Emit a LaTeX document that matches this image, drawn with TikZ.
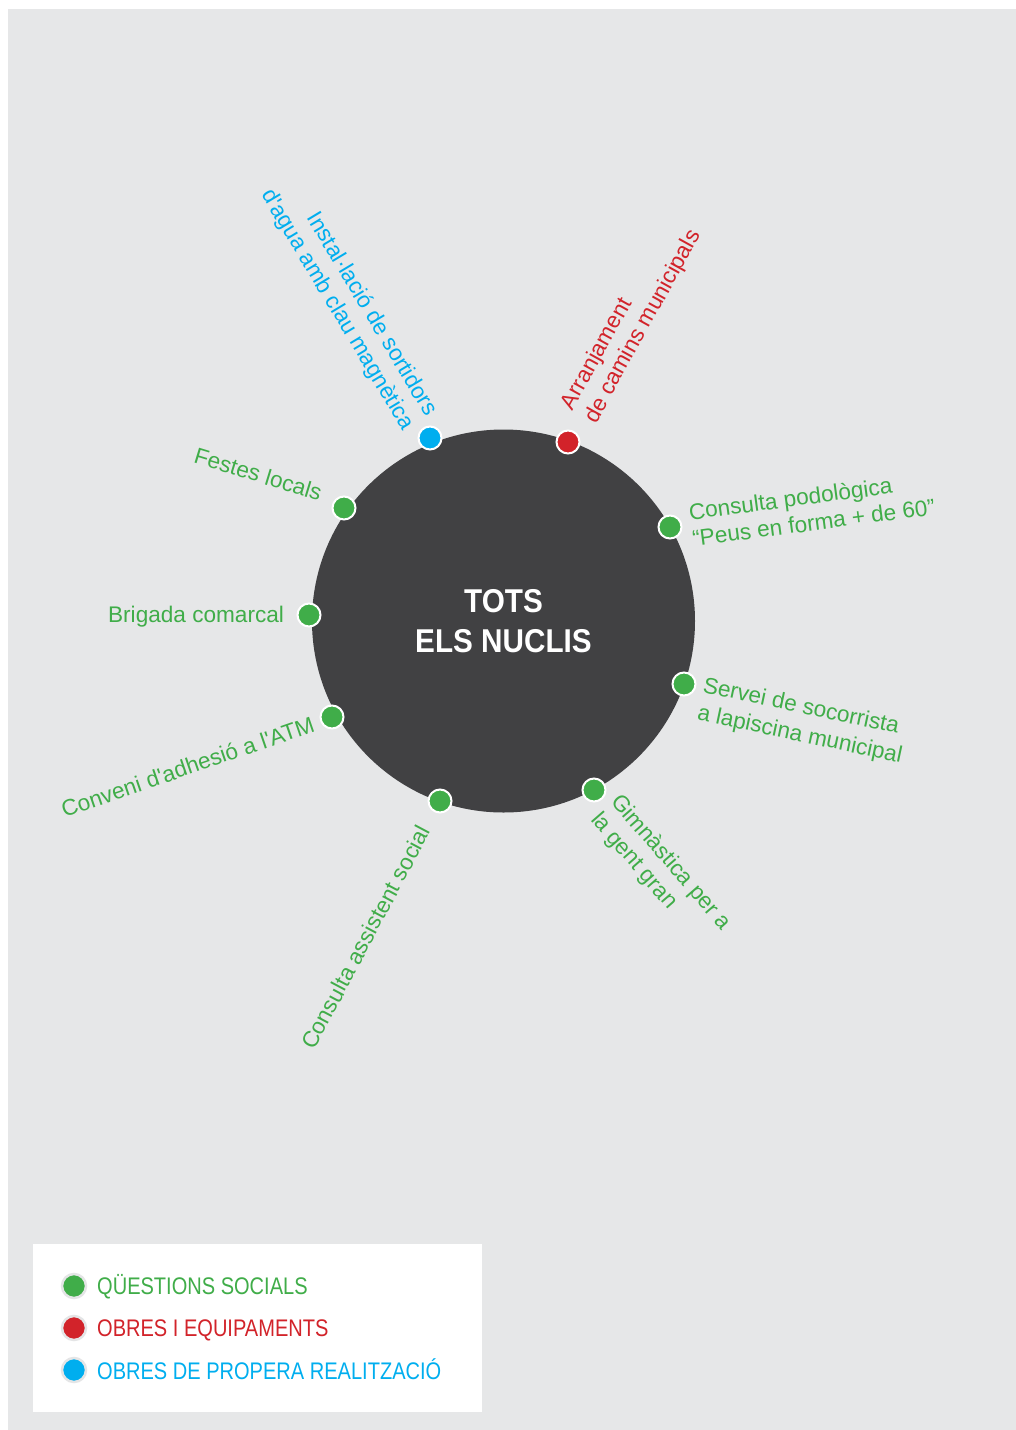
\documentclass[tikz,border=0pt]{standalone}
\usepackage{fontspec}
\setmainfont{Liberation Sans}
\newfontfamily\lblfont{Liberation Sans}[Ligatures=ResetAll]
\newfontfamily\condfont[FakeStretch=0.835]{Liberation Sans}
\newfontfamily\titlefont[FakeStretch=0.9]{Liberation Sans}
\definecolor{qgreen}{RGB}{64,173,73}
\definecolor{ored}{RGB}{210,35,42}
\definecolor{pblue}{RGB}{0,174,239}
\definecolor{hubgray}{RGB}{65,65,67}
\definecolor{bggray}{RGB}{230,231,232}
\definecolor{ringgray}{RGB}{228,229,230}
\begin{document}
\begin{tikzpicture}[x=1pt,y=-1pt,
  dot/.style={circle, minimum size=23pt, inner sep=0pt, draw=white, line width=2pt},
  gdot/.style={dot, fill=qgreen},
  rdot/.style={dot, fill=ored},
  bdot/.style={dot, fill=pblue},
  lbl/.style={inner sep=0pt, outer sep=0pt, font=\lblfont\fontsize{22.6}{27}\selectfont},
  glbl/.style={lbl, text=qgreen},
  rlbl/.style={lbl, text=ored},
  blbl/.style={lbl, text=pblue},
  legdot/.style={circle, minimum size=24pt, inner sep=0pt, draw=ringgray, line width=2.5pt},
  legtxt/.style={inner sep=0pt, anchor=base west, font=\condfont\fontsize{24}{28}\selectfont}
]
\useasboundingbox (0,0) rectangle (1016,1430);
\fill[white] (0,0) rectangle (1016,1430);
\fill[bggray] (8,9) rectangle (1016,1430);

% hub
\node[circle, fill=hubgray, minimum size=383pt, inner sep=0pt, text=white, align=center,
      font=\titlefont\bfseries\fontsize{33}{40}\selectfont] (hub) at (503.5,621) {TOTS\\ELS NUCLIS};

% dots
\node[bdot] (inst) at (430,438) {};
\node[rdot] (arr) at (568,442) {};
\node[gdot] (pod) at (670,527) {};
\node[gdot] (serv) at (684,684) {};
\node[gdot] (gim) at (594,790) {};
\node[gdot] (assist) at (440,801) {};
\node[gdot] (conv) at (332,717) {};
\node[gdot] (brig) at (309,615) {};
\node[gdot] (fest) at (344,508) {};

% labels
\node[blbl, anchor=base east, rotate=-59] (instA) at (426,417) {Instal·lació de sortidors};
\node[blbl, anchor=base east, rotate=-59] (instB) at (403,431) {d'agua amb clau magnètica};
\node[rlbl, anchor=base west, rotate=61] (arrA) at (572.5,411) {Arranjament};
\node[rlbl, anchor=base west, rotate=61] (arrB) at (596,424) {de camins municipals};
\node[glbl, anchor=base west, rotate=7.5] (podA) at (690,520) {Consulta podològica};
\node[glbl, anchor=base west, rotate=7.5] (podB) at (693.5,546.5) {“Peus en forma + de 60”};
\node[glbl, anchor=base west, rotate=-12] (servA) at (702,692) {Servei de socorrista};
\node[glbl, anchor=base west, rotate=-12] (servB) at (696.5,719.5) {a lapiscina municipal};
\node[glbl, anchor=base west, rotate=-49] (gimA) at (610,802) {Gimnàstica per a};
\node[glbl, anchor=base west, rotate=-49] (gimB) at (590,820) {la gent gran};
\node[glbl, anchor=base east, rotate=62] (assistL) at (431,831) {Consulta assistent social};
\node[glbl, anchor=base east, rotate=19] (convL) at (316,731) {Conveni d'adhesió a l'ATM};
\node[glbl, anchor=base east] (brigL) at (284,622) {Brigada comarcal};
\node[glbl, anchor=base east, rotate=-17] (festL) at (319,501) {Festes locals};

% legend
\fill[white] (33,1244) rectangle (482,1412);
\node[legdot, fill=qgreen] (l1) at (74,1286) {};
\node[legdot, fill=ored] (l2) at (74,1328) {};
\node[legdot, fill=pblue] (l3) at (74,1370) {};
\node[legtxt, text=qgreen] (t1) at (97,1294) {QÜESTIONS SOCIALS};
\node[legtxt, text=ored] (t2) at (97,1336) {OBRES I EQUIPAMENTS};
\node[legtxt, text=pblue] (t3) at (97,1379) {OBRES DE PROPERA REALITZACIÓ};
\end{tikzpicture}
\end{document}
